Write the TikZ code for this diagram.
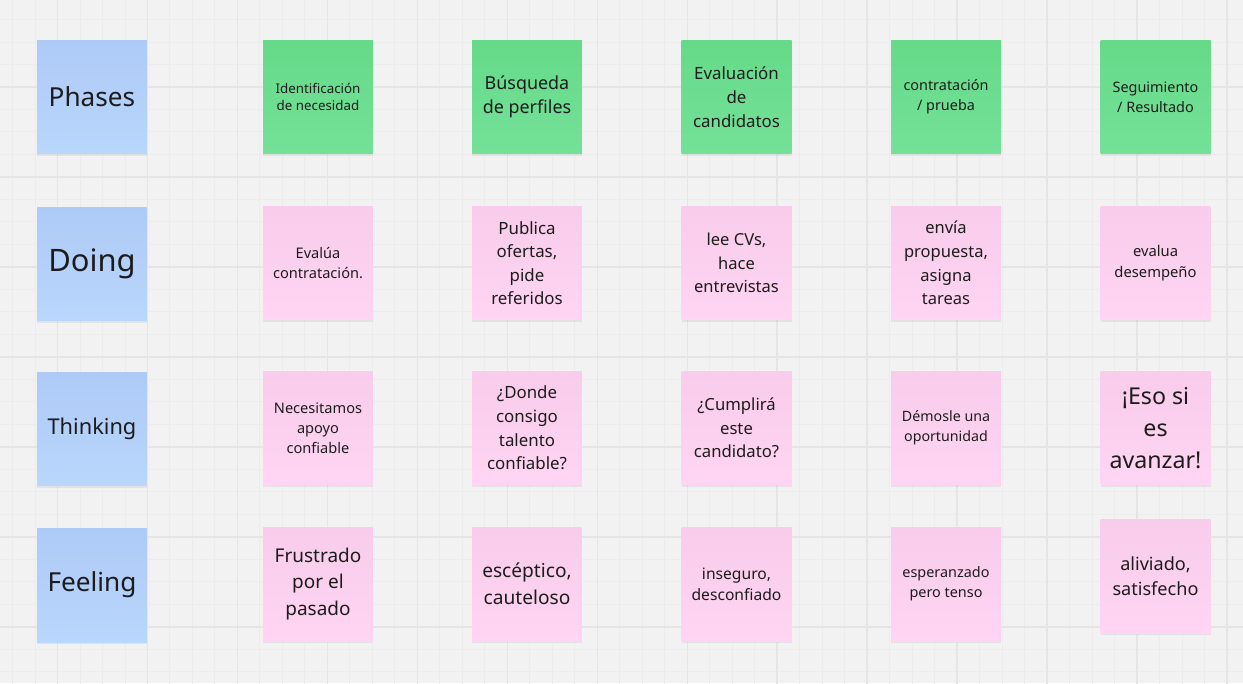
\documentclass[tikz,border=0pt]{standalone}
\usepackage{fontspec}
\setmainfont{Noto Sans}
\usetikzlibrary{shadows}

\definecolor{canvas}{HTML}{F2F2F2}
\definecolor{gridminor}{HTML}{ECECEC}
\definecolor{gridmajor}{HTML}{E5E5E5}
\definecolor{bluetop}{HTML}{AECAF7}
\definecolor{bluebot}{HTML}{B9D6FC}
\definecolor{greentop}{HTML}{66DA89}
\definecolor{greenbot}{HTML}{74E198}
\definecolor{pinktop}{HTML}{F8CCEA}
\definecolor{pinkbot}{HTML}{FFD5F3}
\definecolor{notetext}{HTML}{1C1C1C}

\newcommand{\notefont}[2]{\fontsize{#1}{#2}\selectfont}

\tikzset{
    note/.style={minimum width=2.2cm, minimum height=2.28cm, inner sep=0pt, align=center,
        text=notetext, drop shadow={shadow xshift=0pt, shadow yshift=-1.3pt, opacity=0.13}},
    rowlabel/.style={note, top color=bluetop, bottom color=bluebot},
    phasebox/.style={note, top color=greentop, bottom color=greenbot},
    stickybox/.style={note, top color=pinktop, bottom color=pinkbot}
}

\begin{document}
\begin{tikzpicture}[x=0.02cm, y=-0.02cm]

    \useasboundingbox (0,0) rectangle (1243,683);
    \fill[canvas] (0,0) rectangle (1243,683);

    % Raster
    \begin{scope}
        \clip (0,0) rectangle (1243,683);
        \begin{scope}[shift={(57.5,-3)}]
            \draw[gridminor, line width=0.55pt, step=0.45cm] (-60,700) grid (1200,-10);
            \draw[gridmajor, line width=1pt, step=1.8cm] (-60,700) grid (1200,-10);
        \end{scope}
    \end{scope}

    % Zeilen
    \node[rowlabel, font=\notefont{14.9}{20}] (phases) at (92,97) {Phases};
    \node[rowlabel, font=\notefont{17.6}{24}] (doing) at (92,264) {Doing};
    \node[rowlabel, font=\notefont{12.4}{17}] (thinking) at (92,429) {Thinking};
    \node[rowlabel, font=\notefont{14.9}{20}] (feeling) at (92,585) {Feeling};

    % Phasen
    \node[phasebox, font=\notefont{7.6}{10}] (p1) at (318,97) {Identificación\\de necesidad};
    \node[phasebox, font=\notefont{10.2}{13.8}] (p2) at (527,97) {Búsqueda\\de perfiles};
    \node[phasebox, font=\notefont{9.6}{13.5}] (p3) at (736.5,97) {Evaluación\\de\\candidatos};
    \node[phasebox, font=\notefont{8.2}{11.3}] (p4) at (946,97) {contratación\\/ prueba};
    \node[phasebox, font=\notefont{8.2}{11.3}] (p5) at (1155.5,97) {Seguimiento\\/ Resultado};

    % Doing
    \node[stickybox, font=\notefont{8.3}{11.3}] (d1) at (318,263) {Evalúa\\contratación.};
    \node[stickybox, font=\notefont{9.6}{13.4}] (d2) at (527,263) {Publica\\ofertas,\\pide\\referidos};
    \node[stickybox, font=\notefont{9.4}{13.3}] (d3) at (736.5,263) {lee CVs,\\hace\\entrevistas};
    \node[stickybox, font=\notefont{9.4}{13.4}] (d4) at (946,263) {envía\\propuesta,\\asigna\\tareas};
    \node[stickybox, font=\notefont{8.4}{11.8}] (d5) at (1155.5,263) {evalua\\desempeño};

    % Thinking
    \node[stickybox, font=\notefont{8.3}{11.3}] (t1) at (318,428) {Necesitamos\\apoyo\\confiable};
    \node[stickybox, font=\notefont{9.6}{13.4}] (t2) at (527,428) {¿Donde\\consigo\\talento\\confiable?};
    \node[stickybox, font=\notefont{9.5}{13.3}] (t3) at (736.5,428) {¿Cumplirá\\este\\candidato?};
    \node[stickybox, font=\notefont{8.1}{11.3}] (t4) at (946,428) {Démosle una\\oportunidad};
    \node[stickybox, font=\notefont{13.2}{18.1}] (t5) at (1155.5,428) {¡Eso si\\es\\avanzar!};

    % Feeling
    \node[stickybox, font=\notefont{10.8}{15}] (f1) at (318,584) {Frustrado\\por el\\pasado};
    \node[stickybox, font=\notefont{10.9}{15.3}] (f2) at (527,584) {escéptico,\\cauteloso};
    \node[stickybox, font=\notefont{8.9}{11.9}] (f3) at (736.5,584) {inseguro,\\desconfiado};
    \node[stickybox, font=\notefont{8.2}{11.3}] (f4) at (946,584) {esperanzado\\pero tenso};
    \node[stickybox, font=\notefont{10.3}{14.2}] (f5) at (1155.5,576) {aliviado,\\satisfecho};
\end{tikzpicture}
\end{document}
